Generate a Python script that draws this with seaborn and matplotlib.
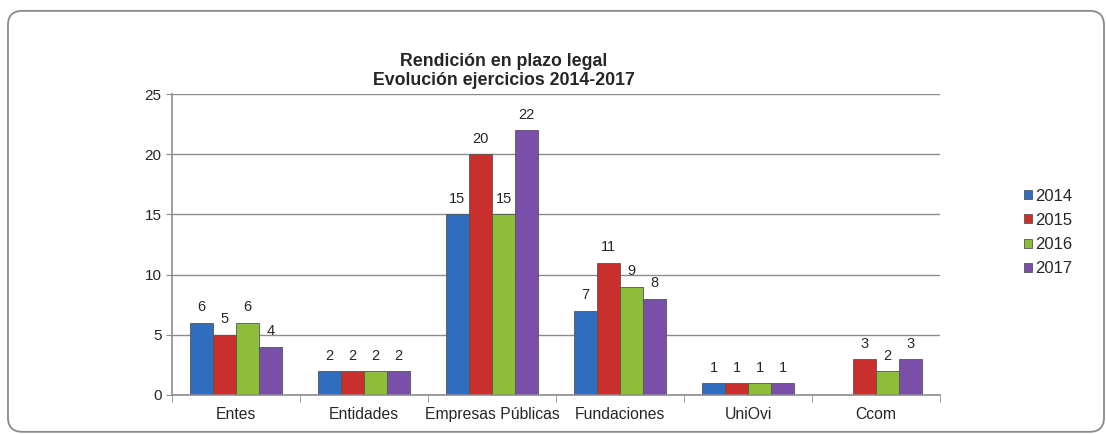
import pandas as pd
import numpy as np
import matplotlib.pyplot as plt
import seaborn as sns
from matplotlib.patches import FancyBboxPatch

categorias = ['Entes', 'Entidades', 'Empresas Públicas', 'Fundaciones', 'UniOvi', 'Ccom']
anios = ['2014', '2015', '2016', '2017']
v2014 = [6, 2, 15, 7, 1, np.nan]
v2015 = [5, 2, 20, 11, 1, 3]
v2016 = [6, 2, 15, 9, 1, 2]
v2017 = [4, 2, 22, 8, 1, 3]
colores = ['#2F6EBF', '#C9302C', '#8DBE3A', '#7A4FAA']

rows = []
for anio, vals in zip(anios, [v2014, v2015, v2016, v2017]):
    for cat, v in zip(categorias, vals):
        rows.append({'Categoria': cat, 'Anio': anio, 'Valor': v})
data = pd.DataFrame(rows)

sns.set_style('white')
plt.rcParams['font.family'] = ['Liberation Sans', 'DejaVu Sans']

fig = plt.figure(figsize=(11.06, 4.34), dpi=100)
ax = fig.add_axes([0.1555, 0.0899, 0.6945, 0.6935])

sns.barplot(data=data, x='Categoria', y='Valor', hue='Anio', palette=colores,
            width=0.72, edgecolor='#555555', linewidth=0.6, ax=ax, saturation=1)

# value labels on top of each bar
for cont in ax.containers:
    for bar in cont.patches:
        if bar is None:
            continue
        h = bar.get_height()
        if np.isnan(h):
            continue
        ax.annotate(str(int(h)), (bar.get_x() + bar.get_width() / 2, h),
                    xytext=(0, 6), textcoords='offset points',
                    ha='center', va='bottom', fontsize=10.5)

ax.set_ylim(0, 25)
ax.set_yticks([0, 5, 10, 15, 20, 25])
ax.set_xlim(-0.5, 5.5)
ax.yaxis.grid(True, color='#8c8c8c', linewidth=1)
ax.set_axisbelow(True)
for s in ['top', 'right']:
    ax.spines[s].set_visible(False)
for s in ['left', 'bottom']:
    ax.spines[s].set_color('#8c8c8c')
    ax.spines[s].set_linewidth(1.2)
ax.set_xlabel('')
ax.set_ylabel('')
ax.tick_params(axis='x', length=0, labelsize=11.3, pad=9)
ax.tick_params(axis='y', left=True, length=4, color='#8c8c8c', labelsize=11)
ax.set_xticks(np.arange(-0.5, 6.0, 1.0), minor=True)
ax.tick_params(axis='x', which='minor', bottom=True, length=5, color='#8c8c8c')

ax.legend(loc='center left', bbox_to_anchor=(1.09, 0.54), frameon=False,
          fontsize=12, handlelength=0.45, handleheight=0.45, handletextpad=0.2,
          labelspacing=0.55)

fig.text(0.4557, 0.836, 'Rendición en plazo legal\nEvolución ejercicios 2014-2017',
         ha='center', va='center', fontsize=12.8, fontweight='bold', linespacing=1.15)

frame = FancyBboxPatch((0.0072, 0.005), 0.991, 0.97, boxstyle='round,pad=0,rounding_size=0.013',
                       transform=fig.transFigure, facecolor='none', edgecolor='#8a8a8a',
                       linewidth=1.3, mutation_aspect=1106 / 434)
fig.patches.append(frame)

fig.savefig('out.png', dpi=100)
